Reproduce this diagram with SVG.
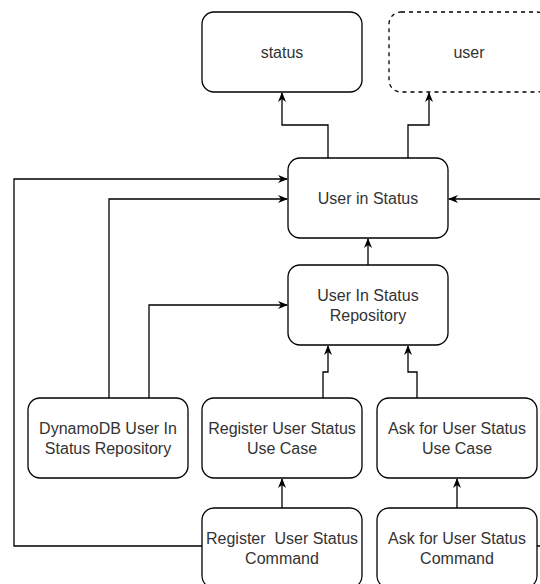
<svg xmlns="http://www.w3.org/2000/svg" width="540" height="584" viewBox="0 0 540 584">
  <style>
    .box { fill: #ffffff; stroke: #000000; stroke-width: 1.3; }
    .dashed { stroke-dasharray: 4 4; }
    .label { font-family: "Liberation Sans", Arial, sans-serif; font-size: 16px; fill: #333333; text-anchor: middle; }
    .edge { fill: none; stroke: #000000; stroke-width: 1.3; marker-end: url(#arrow); }
  </style>
  <defs>
    <marker id="arrow" viewBox="0 0 10 8" refX="9" refY="4" markerWidth="10" markerHeight="8" markerUnits="userSpaceOnUse" orient="auto">
      <path d="M0,0 L10,4 L0,8 L3,4 Z" fill="#000000"/>
    </marker>
  </defs>
  <rect width="540" height="584" fill="#ffffff"/>

  <g id="connectors">
    <!-- User in Status uses status and user -->
    <path class="edge" d="M328,158 V125 H282 V93"/>
    <path class="edge" d="M408,158 V125 H429 V93"/>
    <!-- Repository to User in Status -->
    <path class="edge" d="M368,265 V239"/>
    <!-- DynamoDB repository links -->
    <path class="edge" d="M109,398 V199 H287"/>
    <path class="edge" d="M149,398 V305 H287"/>
    <!-- Use cases to repository -->
    <path class="edge" d="M323,398 V372 H328 V346"/>
    <path class="edge" d="M417,398 V372 H408 V346"/>
    <!-- Commands to use cases -->
    <path class="edge" d="M282,508 V479"/>
    <path class="edge" d="M457,508 V479"/>
    <!-- Commands to User in Status -->
    <path class="edge" d="M202,546 H14 V179 H287"/>
    <path class="edge" d="M537,546 H552 V199 H449"/>
  </g>

  <g id="status">
    <rect class="box" x="202" y="12" width="160" height="80" rx="12"/>
    <text class="label" x="282" y="58">status</text>
  </g>
  <g id="user">
    <rect class="box dashed" x="389" y="12" width="160" height="80" rx="12"/>
    <text class="label" x="469" y="58">user</text>
  </g>
  <g id="user-in-status">
    <rect class="box" x="288" y="158" width="160" height="80" rx="12"/>
    <text class="label" x="368" y="204">User in Status</text>
  </g>
  <g id="user-in-status-repository">
    <rect class="box" x="288" y="265" width="160" height="80" rx="12"/>
    <text class="label" x="368" y="301">User In Status</text>
    <text class="label" x="368" y="321">Repository</text>
  </g>
  <g id="dynamodb-repository">
    <rect class="box" x="28" y="398" width="160" height="80" rx="12"/>
    <text class="label" x="108" y="434">DynamoDB User In</text>
    <text class="label" x="108" y="454">Status Repository</text>
  </g>
  <g id="register-use-case">
    <rect class="box" x="202" y="398" width="160" height="80" rx="12"/>
    <text class="label" x="282" y="434">Register User Status</text>
    <text class="label" x="282" y="454">Use Case</text>
  </g>
  <g id="ask-use-case">
    <rect class="box" x="377" y="398" width="160" height="80" rx="12"/>
    <text class="label" x="457" y="434">Ask for User Status</text>
    <text class="label" x="457" y="454">Use Case</text>
  </g>
  <g id="register-command">
    <rect class="box" x="202" y="508" width="160" height="80" rx="12"/>
    <text class="label" x="282" y="544" xml:space="preserve">Register  User Status</text>
    <text class="label" x="282" y="564">Command</text>
  </g>
  <g id="ask-command">
    <rect class="box" x="377" y="508" width="160" height="80" rx="12"/>
    <text class="label" x="457" y="544">Ask for User Status</text>
    <text class="label" x="457" y="564">Command</text>
  </g>
</svg>
